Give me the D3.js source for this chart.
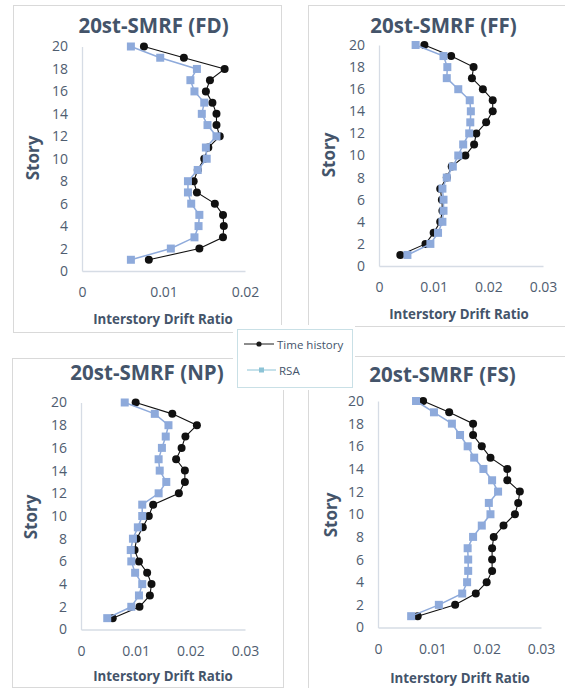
<!DOCTYPE html>
<html>
<head>
<meta charset="utf-8">
<script src="https://cdn.jsdelivr.net/npm/d3@7"></script>
<style>
  html, body { margin: 0; padding: 0; background: #fff; }
  svg { display: block; font-family: "Open Sans", "Noto Sans", sans-serif; }
</style>
</head>
<body>
<svg id="chart" width="565" height="688"></svg>
<script>
// Story numbers, bottom to top
const stories = [1, 2, 3, 4, 5, 6, 7, 8, 9, 10, 11, 12, 13, 14, 15, 16, 17, 18, 19, 20];

// Interstory drift ratios per story (story 1 .. 20)
const fdTimeHistory = [0.0082, 0.0144, 0.0173, 0.0174, 0.0173, 0.0163, 0.0141, 0.0137, 0.0142, 0.0150,
                       0.0155, 0.0169, 0.0165, 0.0165, 0.0160, 0.0152, 0.0157, 0.0175, 0.0125, 0.0076];
const fdRSA        = [0.0060, 0.0109, 0.0138, 0.0143, 0.0144, 0.0134, 0.0130, 0.0130, 0.0142, 0.0153,
                       0.0152, 0.0165, 0.0154, 0.0147, 0.0150, 0.0138, 0.0133, 0.0141, 0.0096, 0.0060];

const ffTimeHistory = [0.0039, 0.0085, 0.0100, 0.0112, 0.0116, 0.0115, 0.0112, 0.0124, 0.0133, 0.0158,
                       0.0174, 0.0178, 0.0196, 0.0208, 0.0208, 0.0190, 0.0170, 0.0173, 0.0132, 0.0083];
const ffRSA        = [0.0052, 0.0094, 0.0108, 0.0116, 0.0118, 0.0118, 0.0116, 0.0124, 0.0135, 0.0145,
                       0.0154, 0.0165, 0.0167, 0.0168, 0.0166, 0.0145, 0.0124, 0.0125, 0.0118, 0.0067];

const npTimeHistory = [0.0058, 0.0107, 0.0126, 0.0129, 0.0121, 0.0106, 0.0098, 0.0102, 0.0113, 0.0124,
                       0.0132, 0.0179, 0.0190, 0.0190, 0.0174, 0.0184, 0.0191, 0.0212, 0.0167, 0.0100];
const npRSA        = [0.0048, 0.0092, 0.0106, 0.0112, 0.0099, 0.0092, 0.0091, 0.0095, 0.0104, 0.0112,
                       0.0112, 0.0142, 0.0156, 0.0144, 0.0142, 0.0148, 0.0155, 0.0160, 0.0135, 0.0080];

const fsTimeHistory = [0.0073, 0.0142, 0.0180, 0.0200, 0.0210, 0.0210, 0.0210, 0.0213, 0.0231, 0.0252,
                       0.0258, 0.0261, 0.0238, 0.0238, 0.0207, 0.0191, 0.0175, 0.0175, 0.0131, 0.0083];
const fsRSA        = [0.0061, 0.0112, 0.0155, 0.0164, 0.0166, 0.0166, 0.0165, 0.0175, 0.0191, 0.0207,
                       0.0204, 0.0221, 0.0210, 0.0194, 0.0177, 0.0165, 0.0151, 0.0136, 0.0103, 0.0070];

// Axis ticks
const storyTicks = [0, 2, 4, 6, 8, 10, 12, 14, 16, 18, 20];
const driftTicksShort = [0, 0.01, 0.02];
const driftTicksLong = [0, 0.01, 0.02, 0.03];

const seriesNames = ["Time history", "RSA"];

// Panel placement on the page (text positions are baselines)
const panels = [
  { title: "20st-SMRF (FD)", th: fdTimeHistory, rsa: fdRSA, xMax: 0.02, ticks: driftTicksShort,
    frame: [13, 5, 281, 332], x: [82, 245], y: [271, 46.5],
    titlePos: [153.5, 33], storyPos: [32, 158], xTitlePos: [163, 324] },
  { title: "20st-SMRF (FF)", th: ffTimeHistory, rsa: ffRSA, xMax: 0.03, ticks: driftTicksLong,
    frame: [308, 5, 566, 326], x: [379, 543], y: [266, 45],
    titlePos: [443.5, 33], storyPos: [328, 155], xTitlePos: [459, 319] },
  { title: "20st-SMRF (NP)", th: npTimeHistory, rsa: npRSA, xMax: 0.03, ticks: driftTicksLong,
    frame: [12, 358, 283, 687], x: [81, 245], y: [629.5, 402.5],
    titlePos: [147, 379.5], storyPos: [30, 517], xTitlePos: [163, 681] },
  { title: "20st-SMRF (FS)", th: fsTimeHistory, rsa: fsRSA, xMax: 0.03, ticks: driftTicksLong,
    frame: [308, 356, 566, 688], x: [378, 541], y: [627.5, 401],
    titlePos: [442.5, 382], storyPos: [330, 515], xTitlePos: [460, 683] }
];

const textColor = "#44546A";
const tickColor = "#4f5d70";
const axisColor = "#d6dce5";
const thColor = "#111111";
const rsaColor = "#8eaadb";

const svg = d3.select("#chart");

panels.forEach(p => {
  const g = svg.append("g");
  const [fx0, fy0, fx1, fy1] = p.frame;
  g.append("rect")
    .attr("x", fx0 + 0.5).attr("y", fy0 + 0.5)
    .attr("width", fx1 - fx0).attr("height", fy1 - fy0)
    .attr("fill", "#fff").attr("stroke", "#d9d9d9").attr("stroke-width", 1);

  const x = d3.scaleLinear().domain([0, p.xMax]).range(p.x);
  const y = d3.scaleLinear().domain([0, 20]).range(p.y);

  // x axis
  const xAxis = d3.axisBottom(x).tickValues(p.ticks).tickSize(0).tickPadding(16.5)
    .tickFormat(d => d === 0 ? "0" : d3.format(".2f")(d));
  const gx = g.append("g").attr("transform", `translate(0,${p.y[0]})`).call(xAxis);
  gx.select(".domain").attr("stroke", axisColor).attr("stroke-width", 1.3);
  gx.selectAll("text").attr("fill", tickColor).attr("font-size", 14).attr("font-family", "Open Sans");

  // y axis
  const yAxis = d3.axisLeft(y).tickValues(storyTicks).tickSize(0).tickPadding(14);
  const gy = g.append("g").attr("transform", `translate(${p.x[0]},0)`).call(yAxis);
  gy.select(".domain").attr("stroke", axisColor).attr("stroke-width", 1.3);
  gy.selectAll("text").attr("fill", tickColor).attr("font-size", 14).attr("font-family", "Open Sans");

  // Time history series
  const thPts = stories.map((s, i) => [p.th[i], s]);
  const rsaPts = stories.map((s, i) => [p.rsa[i], s]);
  const line = d3.line().x(d => x(d[0])).y(d => y(d[1]));

  g.append("path").attr("d", line(thPts)).attr("fill", "none")
    .attr("stroke", thColor).attr("stroke-width", 1.1);
  g.selectAll(".th").data(thPts).enter().append("circle")
    .attr("cx", d => x(d[0])).attr("cy", d => y(d[1])).attr("r", 4)
    .attr("fill", thColor);

  // RSA series
  g.append("path").attr("d", line(rsaPts)).attr("fill", "none")
    .attr("stroke", rsaColor).attr("stroke-width", 1.5);
  g.selectAll(".rsa").data(rsaPts).enter().append("rect")
    .attr("x", d => x(d[0]) - 4).attr("y", d => y(d[1]) - 4)
    .attr("width", 8).attr("height", 8)
    .attr("fill", rsaColor);

  // Titles
  g.append("text").attr("x", p.titlePos[0]).attr("y", p.titlePos[1])
    .attr("text-anchor", "middle")
    .attr("font-size", 20.5).attr("font-weight", "bold").attr("fill", textColor)
    .text(p.title);
  g.append("text")
    .attr("transform", `translate(${p.storyPos[0]},${p.storyPos[1]}) rotate(-90)`)
    .attr("text-anchor", "middle").attr("dominant-baseline", "central")
    .attr("font-size", 17).attr("font-weight", "bold").attr("fill", textColor)
    .text("Story");
  g.append("text").attr("x", p.xTitlePos[0]).attr("y", p.xTitlePos[1])
    .attr("text-anchor", "middle")
    .attr("font-size", 13.3).attr("font-weight", "bold").attr("fill", textColor)
    .text("Interstory Drift Ratio");
});

// Shared legend
const lg = svg.append("g");
lg.append("rect").attr("x", 233).attr("y", 325).attr("width", 122).attr("height", 65)
  .attr("fill", "#fff");
lg.append("rect").attr("x", 237.5).attr("y", 329.5).attr("width", 115).attr("height", 58)
  .attr("fill", "#fff").attr("stroke", "#c9e0e6").attr("stroke-width", 1);

const legendRows = [
  { name: seriesNames[0], color: "#1a1a1a", y: 344, marker: "circle", x0: 244, x1: 274 },
  { name: seriesNames[1], color: "#8cc3d6", y: 370, marker: "square", x0: 247, x1: 276 }
];
legendRows.forEach(r => {
  lg.append("line").attr("x1", r.x0).attr("x2", r.x1).attr("y1", r.y).attr("y2", r.y)
    .attr("stroke", r.color).attr("stroke-width", 1);
  const mx = (r.x0 + r.x1) / 2;
  if (r.marker === "circle") {
    lg.append("circle").attr("cx", mx).attr("cy", r.y).attr("r", 2.6).attr("fill", r.color);
  } else {
    lg.append("rect").attr("x", mx - 2.5).attr("y", r.y - 2.5).attr("width", 5).attr("height", 5)
      .attr("fill", r.color);
  }
  lg.append("text").attr("x", r.x1 + 3).attr("y", r.y).attr("dominant-baseline", "central")
    .attr("font-size", 11.5).attr("fill", textColor).text(r.name);
});
</script>
</body>
</html>
